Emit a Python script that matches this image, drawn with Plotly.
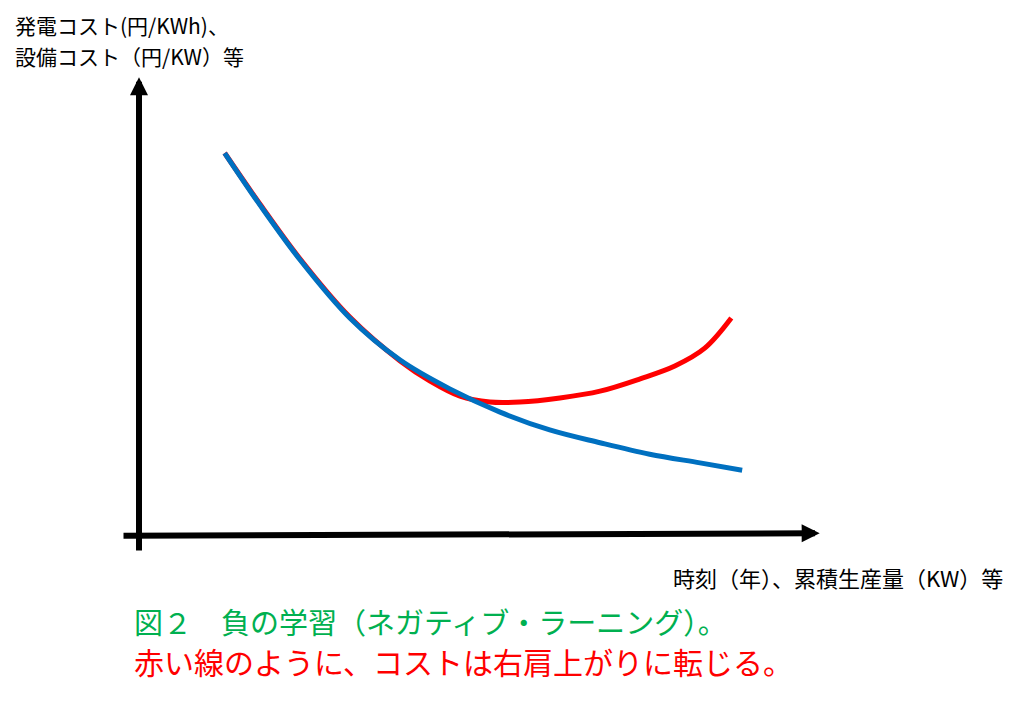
import plotly.graph_objects as go

# Conceptual curves (arbitrary units: x = time / cumulative production, y = cost)
blue_x = [12.6, 17.8, 23.7, 31.0, 38.4, 45.7, 53.1, 60.4, 67.8, 75.1, 82.5, 88.7]
blue_y = [83.8, 72.4, 60.4, 47.7, 38.5, 32.2, 27.1, 23.2, 20.4, 17.9, 16.0, 14.4]

red_x = [12.6, 17.8, 23.7, 31.0, 38.4, 42.8, 47.2, 51.6, 56.0, 61.9, 67.8, 73.7, 78.8, 83.2, 87.1]
red_y = [83.8, 72.6, 60.6, 47.9, 38.3, 33.9, 30.6, 29.3, 29.3, 30.2, 31.7, 34.4, 37.2, 41.1, 47.7]

y_label_1 = "発電コスト(円/KWh)、"
y_label_2 = "設備コスト（円/KW）等"
x_label = "時刻（年）、累積生産量（KW）等"
caption_1 = "図２　負の学習（ネガティブ・ラーニング）。"
caption_2 = "赤い線のように、コストは右肩上がりに転じる。"

FONT = "Noto Sans CJK JP"
W, H = 1024, 703

fig = go.Figure()
fig.add_trace(go.Scatter(x=red_x, y=red_y, mode="lines",
                         line=dict(color="#FF0000", width=5, shape="spline", smoothing=1.0),
                         hoverinfo="skip", showlegend=False))
fig.add_trace(go.Scatter(x=blue_x, y=blue_y, mode="lines",
                         line=dict(color="#0070C0", width=5, shape="spline", smoothing=1.0),
                         hoverinfo="skip", showlegend=False))

def px(X):
    return X / W

def py(Y):
    return 1 - Y / H

annotations = [
    # y axis arrow
    dict(x=0, y=100.4, ax=0, ay=-3.5, xref="x", yref="y", axref="x", ayref="y",
         text="", showarrow=True, arrowhead=2, arrowwidth=6, arrowsize=0.6,
         arrowcolor="black", standoff=0, startstandoff=0),
    # x axis arrow
    dict(x=100.1, y=0.6, ax=-2.5, ay=0.05, xref="x", yref="y", axref="x", ayref="y",
         text="", showarrow=True, arrowhead=2, arrowwidth=6, arrowsize=0.6,
         arrowcolor="black", standoff=0, startstandoff=0),
    dict(x=px(14), y=py(24.5), xref="paper", yref="paper", text=y_label_1,
         showarrow=False, xanchor="left", yanchor="middle", borderpad=0,
         font=dict(family=FONT, size=21, color="black")),
    dict(x=px(14), y=py(55.5), xref="paper", yref="paper", text=y_label_2,
         showarrow=False, xanchor="left", yanchor="middle", borderpad=0,
         font=dict(family=FONT, size=21, color="black")),
    dict(x=px(1005), y=py(577), xref="paper", yref="paper", text=x_label,
         showarrow=False, xanchor="right", yanchor="middle",
         font=dict(family=FONT, size=22, color="black")),
    dict(x=px(132), y=py(621), xref="paper", yref="paper", text=caption_1,
         showarrow=False, xanchor="left", yanchor="middle",
         font=dict(family=FONT, size=29, color="#00B050")),
    dict(x=px(132), y=py(661), xref="paper", yref="paper", text=caption_2,
         showarrow=False, xanchor="left", yanchor="middle",
         font=dict(family=FONT, size=30, color="#FF0000")),
]

fig.update_layout(
    width=W, height=H,
    margin=dict(l=0, r=0, t=0, b=0),
    paper_bgcolor="white", plot_bgcolor="white",
    xaxis=dict(range=[-139 / 6.8, (W - 139) / 6.8], visible=False, fixedrange=True),
    yaxis=dict(range=[(536 - H) / 4.57, 536 / 4.57], visible=False, fixedrange=True),
    annotations=annotations,
    showlegend=False,
)

fig.write_html("out.html", config={"displayModeBar": False},
               post_script="document.body.style.margin='0';document.body.style.overflow='hidden';")
